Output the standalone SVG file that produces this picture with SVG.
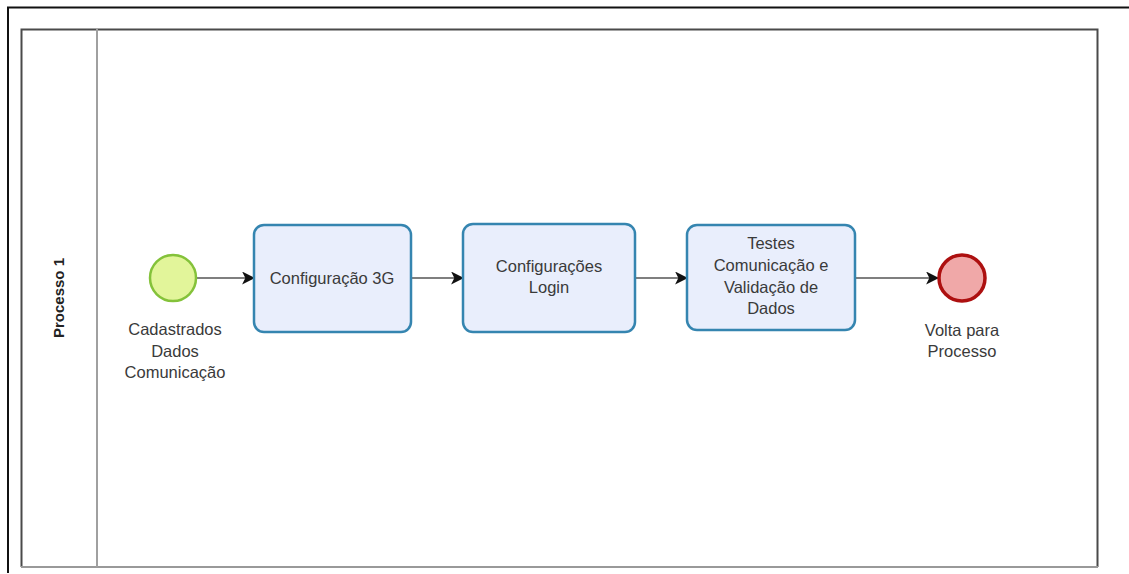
<svg xmlns="http://www.w3.org/2000/svg" width="1129" height="574" viewBox="0 0 1129 574">
  <style>
    .lbl { font-family: "Liberation Sans", Arial, sans-serif; font-size: 16.5px; fill: #3a3a3a; text-anchor: middle; }
    .task rect { fill: #e9eefc; stroke: #3585b0; stroke-width: 2.5; }
    .flow { stroke: #555; stroke-width: 1.5; fill: none; marker-end: url(#arrow); }
  </style>
  <defs>
    <marker id="arrow" viewBox="0 0 12 12" refX="11" refY="6" markerWidth="13" markerHeight="13" markerUnits="userSpaceOnUse" orient="auto">
      <path d="M0,0 L12,6 L0,12 L3,6 Z" fill="#111"/>
    </marker>
  </defs>
  <rect width="1129" height="574" fill="#fff"/>
  <!-- outer frame -->
  <path d="M8,573 V7.5 H1129" fill="none" stroke="#111" stroke-width="2"/>
  <!-- pool -->
  <g id="pool">
    <path d="M21.5,567 V29.5 H1097.5 V567" fill="none" stroke="#4a4a4a" stroke-width="2"/>
    <line x1="21" y1="567" x2="1098" y2="567" stroke="#999" stroke-width="2"/>
    <line x1="97" y1="29" x2="97" y2="567" stroke="#a0a0a0" stroke-width="2"/>
    <text x="0" y="0" transform="translate(64,298) rotate(-90)" font-family="'Liberation Sans', Arial, sans-serif" font-size="15" font-weight="bold" fill="#222" text-anchor="middle">Processo 1</text>
  </g>
  <!-- connectors -->
  <g id="connectors">
    <line class="flow" x1="197" y1="278" x2="254" y2="278"/>
    <line class="flow" x1="411" y1="278" x2="463" y2="278"/>
    <line class="flow" x1="635" y1="278" x2="687" y2="278"/>
    <line class="flow" x1="855" y1="278" x2="938" y2="278"/>
  </g>
  <g id="start">
    <circle cx="173" cy="278" r="23" fill="#e2f59a" stroke="#84c23a" stroke-width="2.5"/>
    <text class="lbl" x="175" y="335">Cadastrados</text>
    <text class="lbl" x="175" y="357">Dados</text>
    <text class="lbl" x="175" y="378">Comunicação</text>
  </g>
  <g id="task1" class="task">
    <rect x="254" y="225" width="157" height="107" rx="10"/>
    <text class="lbl" x="332" y="284">Configuração 3G</text>
  </g>
  <g id="task2" class="task">
    <rect x="463" y="224" width="172" height="108" rx="10"/>
    <text class="lbl" x="549" y="272">Configurações</text>
    <text class="lbl" x="549" y="293">Login</text>
  </g>
  <g id="task3" class="task">
    <rect x="687" y="225" width="168" height="105" rx="10"/>
    <text class="lbl" x="771" y="249">Testes</text>
    <text class="lbl" x="771" y="271">Comunicação e</text>
    <text class="lbl" x="771" y="293">Validação de</text>
    <text class="lbl" x="771" y="314">Dados</text>
  </g>
  <g id="end">
    <circle cx="962" cy="278" r="23" fill="#f0a8a8" stroke="#ad1010" stroke-width="3.5"/>
    <text class="lbl" x="962" y="336">Volta para</text>
    <text class="lbl" x="962" y="357">Processo</text>
  </g>
</svg>
